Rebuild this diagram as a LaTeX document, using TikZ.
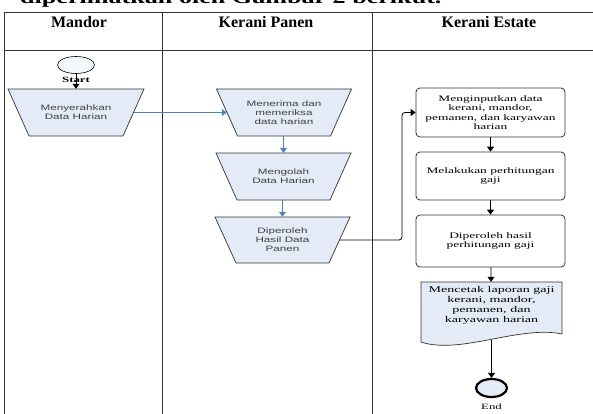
\documentclass[tikz,border=0pt]{standalone}
\usepackage{fontspec}
\setmainfont{Liberation Serif}
\newfontfamily\stsans[FakeStretch=1.5]{Liberation Sans}
\newfontfamily\stserif[FakeStretch=1.6]{Liberation Serif}
\usetikzlibrary{arrows.meta,calc,shapes.geometric}
\definecolor{shfill}{HTML}{E4EAF6}
\definecolor{conblue}{HTML}{4F81BD}
\definecolor{tline}{HTML}{333333}
\tikzset{
  tableline/.style={draw=tline, line width=1pt},
  header/.style={font=\bfseries\fontsize{16}{16}\selectfont, inner sep=0pt},
  trapbox/.style={rectangle, inner sep=0pt},
  trapline/.style={draw=tline, fill=shfill, line width=0.7pt},
  traptext/.style={font=\stsans\fontsize{7.8}{9}\selectfont, text=black!75, align=center, inner sep=0pt},
  procbox/.style={rectangle, rounded corners=4pt, draw=tline, line width=0.8pt, fill=white,
     font=\stserif\fontsize{8.4}{9.4}\selectfont, align=center, inner sep=0pt},
  docbox/.style={rectangle, inner sep=0pt},
  doctext/.style={font=\stserif\fontsize{8.8}{10}\selectfont, align=center, inner sep=0pt},
  termsmall/.style={font=\stserif\bfseries\fontsize{8}{8}\selectfont, inner sep=0.5pt},
  barrow/.style={draw=black, line width=0.8pt, -{Triangle[length=5pt,width=7pt]}},
  bluearrow/.style={draw=conblue, line width=0.8pt, -{Triangle[length=5pt,width=7pt]}},
}
\newcommand\trapnode[5]{% name, x, y, midwidth, height
  \path[trapline] ({#2-#4/2-10.5},{#3-#5/2}) -- ({#2+#4/2+10.5},{#3-#5/2})
     -- ({#2+#4/2-10.5},{#3+#5/2}) -- ({#2-#4/2+10.5},{#3+#5/2}) -- cycle;
  \node[trapbox, minimum width=#4pt, minimum height=#5pt] (#1) at (#2,#3) {};
}
\begin{document}
\begin{tikzpicture}[x=1pt,y=-1pt]
\useasboundingbox (0,0) rectangle (593,414);
\clip (0,0) rectangle (593,414);

% clipped caption line above the table
\node[anchor=base west, inner sep=0pt, font=\bfseries\fontsize{18}{18}\selectfont] (cap) at (20,3.5)
  {\scalebox{1.45}[1]{diperlihatkan oleh Gambar 2 berikut.}};

% table
\coordinate (tl) at (4,12.5);
\coordinate (tr) at (593,12.5);
\coordinate (hl) at (4,51);
\coordinate (hr) at (593,51);
\coordinate (c1t) at (162,12.5);
\coordinate (c1b) at (162,414);
\coordinate (c2t) at (372,12.5);
\coordinate (c2b) at (372,414);
\coordinate (lb) at (4,414);
\draw[tableline] (lb) -- (tl) -- (tr);
\draw[tableline] (hl) -- (hr);
\draw[tableline] (c1t) -- (c1b);
\draw[tableline] (c2t) -- (c2b);

\node[header] (h1) at (79,22) {Mandor};
\node[header] (h2) at (266,22) {Kerani Panen};
\node[header] (h3) at (489,22) {Kerani Estate};

% Mandor lane
\node[ellipse, draw=black, line width=0.6pt, fill=shfill!40, minimum width=37pt, minimum height=17pt, inner sep=0pt] (start) at (76,65) {};
\trapnode{m}{76}{112.5}{115}{47}
\node[traptext] (mt) at (m.center) {Menyerahkan\\Data Harian};

% Kerani Panen lane
\trapnode{k1}{284}{112.5}{114}{47}
\node[traptext] (k1t) at (k1.center) {Menerima dan\\memeriksa\\data harian};
\trapnode{k2}{283.5}{176.5}{114}{47}
\node[traptext] (k2t) at (k2.center) {Mengolah\\Data Harian};
\trapnode{k3}{282.5}{240}{114}{46}
\node[traptext] (k3t) at (k3.center) {Diperoleh\\Hasil Data\\Panen};

% Kerani Estate lane
\node[procbox, minimum width=149pt, minimum height=49pt] (b1) at (490.5,112.5)
  {Menginputkan data\\kerani, mandor,\\pemanen, dan karyawan\\harian};
\node[procbox, minimum width=149pt, minimum height=48pt] (b2) at (490.5,176)
  {Melakukan perhitungan\\gaji};
\node[procbox, minimum width=149pt, minimum height=52pt] (b3) at (490.5,241)
  {Diperoleh hasil\\perhitungan gaji};

% document shape
\path[draw=tline, fill=shfill, line width=0.7pt]
  (421,282) -- (562,282) -- (562,334)
  .. controls (520,325) and (460,355) .. (421,342) -- cycle;
\node[docbox, minimum width=141pt, minimum height=58pt] (doc) at (491.5,311) {};
\node[doctext] (doct) at (491.5,305) {Mencetak laporan gaji\\kerani, mandor,\\pemanen, dan\\karyawan harian};

\node[ellipse, draw=black, line width=2.2pt, fill=shfill, minimum width=31pt, minimum height=18pt, inner sep=0pt] (end) at (491.5,388) {};
\node[font=\stserif\fontsize{8}{8}\selectfont, inner sep=0pt] (endlbl) at (491.5,407) {End};

% connectors
\draw[barrow] (start) -- (m);
\node[termsmall] (startlbl) at (76,80) {Start};
\draw[bluearrow] (m) -- (k1);
\draw[bluearrow] (k1.south -| k2) -- (k2);
\draw[bluearrow] (k2.south -| k3) -- (k3);
\coordinate (turn) at (402,176);
\draw[barrow, rounded corners=3pt] (k3.east) -- (k3.east -| turn) -- (b1.west -| turn) -- (b1.west);
\draw[barrow] (b1) -- (b2);
\draw[barrow] (b2) -- (b3);
\draw[barrow] (b3) -- (doc);
\draw[barrow] (doc) -- (end);
\end{tikzpicture}
\end{document}
